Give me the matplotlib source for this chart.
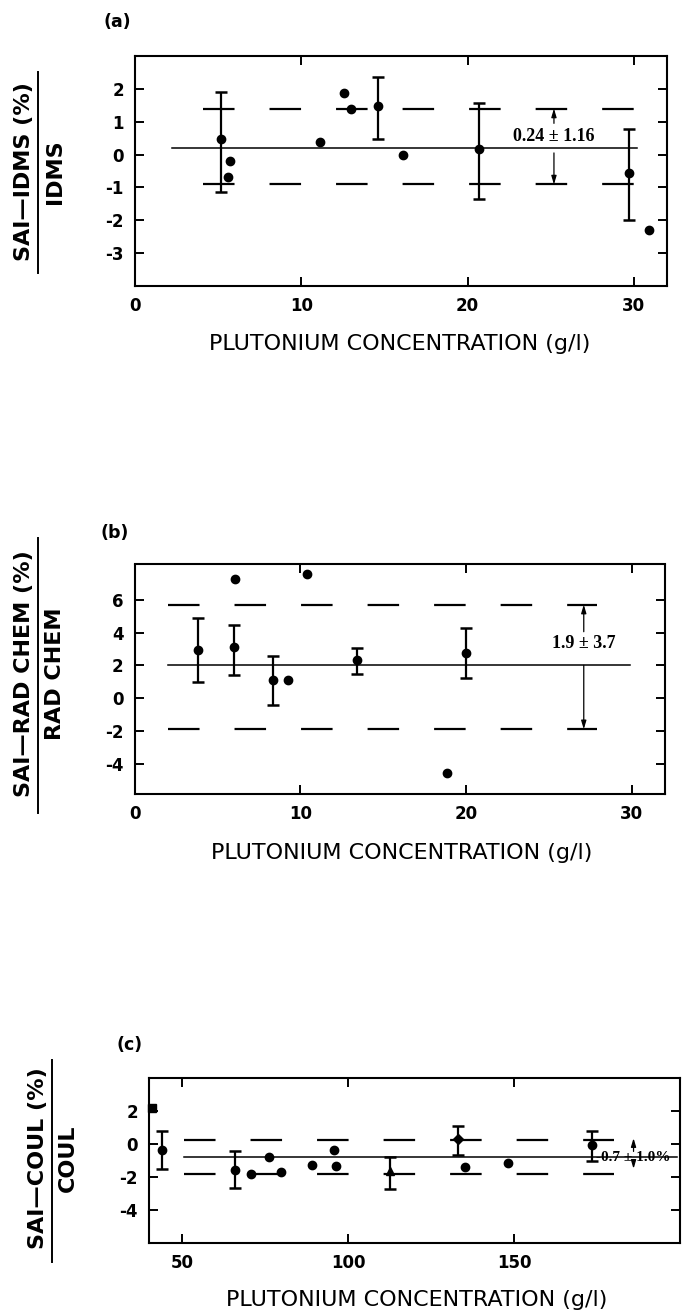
import matplotlib.pyplot as plt
from matplotlib.lines import Line2D

plt.rcParams['font.family'] = ['DejaVu Sans']
plt.rcParams['axes.unicode_minus'] = False
plt.rcParams['lines.scale_dashes'] = False

# (a) SAI vs IDMS
a_err_x = [5.2, 14.6, 20.7, 29.7]
a_err_y = [0.47, 1.47, 0.17, -0.57]
a_err_hi = [1.89, 2.35, 1.58, 0.78]
a_err_lo = [-1.14, 0.47, -1.34, -2.0]
a_pt_x = [5.7, 5.6, 11.1, 12.6, 13.0, 16.1, 30.9]
a_pt_y = [-0.2, -0.69, 0.39, 1.88, 1.38, -0.02, -2.3]
a_mean, a_upper, a_lower = 0.2, 1.40, -0.91
a_mean_span = [2.2, 30.2]
a_band_span = [4.1, 30.0]
a_note = '0.24 ± 1.16'
a_note_x = 25.2

# (b) SAI vs RAD CHEM
b_err_x = [3.83, 5.98, 8.34, 13.45, 20.0]
b_err_y = [2.93, 3.14, 1.09, 2.32, 2.77]
b_err_hi = [4.88, 4.43, 2.58, 3.07, 4.30]
b_err_lo = [0.98, 1.43, -0.41, 1.50, 1.23]
b_pt_x = [6.05, 9.25, 10.38, 18.87]
b_pt_y = [7.27, 1.09, 7.54, -4.59]
b_mean, b_upper, b_lower = 2.0, 5.7, -1.9
b_mean_span = [2.0, 29.9]
b_band_span = [2.0, 27.9]
b_note = '1.9 ± 3.7'
b_note_x = 27.1

# (c) SAI vs COUL
c_err_x = [43.8, 66.0, 112.5, 133.0, 173.6]
c_err_y = [-0.39, -1.55, -1.64, 0.31, -0.05]
c_err_hi = [0.78, -0.41, -0.8, 1.12, 0.77]
c_err_lo = [-1.5, -2.68, -2.71, -0.65, -1.0]
c_err_marker = ['o', 'o', '^', 'D', 'o']
c_pt_x = [70.8, 76.2, 79.9, 89.0, 95.7, 96.4, 135.1, 148.2]
c_pt_y = [-1.8, -0.8, -1.7, -1.3, -0.39, -1.34, -1.4, -1.14]
c_sq_x, c_sq_y = [41.0], [2.2]
c_mean, c_upper, c_lower = -0.8, 0.22, -1.82
c_mean_span = [50.4, 199.0]
c_band_span = [50.5, 180.0]
c_note = '-0.7 ± 1.0%'
c_note_x = 186.0

W, H = 686, 1316
fig = plt.figure(figsize=(W / 100, H / 100), dpi=100)


def rect(left, top, right, bottom):
    return [left / W, 1 - bottom / H, (right - left) / W, (bottom - top) / H]


def fpos(x, y):
    return x / W, 1 - y / H


def setup(ax, xlim, ylim, xticks, yticks):
    ax.set_xlim(xlim)
    ax.set_ylim(ylim)
    ax.set_xticks(xticks, [str(t) for t in xticks], fontweight='bold')
    ax.set_yticks(yticks, [str(t) for t in yticks], fontweight='bold')
    ax.tick_params(direction='in', length=6.5, width=1.4, top=True, right=True,
                   labelsize=12, pad=8)
    for s in ax.spines.values():
        s.set_linewidth(1.5)


def draw(ax, ex, ey, ehi, elo, px, py, mean, upper, lower, mspan, bspan, markers=None):
    ax.plot(mspan, [mean, mean], color='black', lw=1.1)
    for lvl in (upper, lower):
        ax.plot(bspan, [lvl, lvl], color='black', lw=1.6, dashes=(22.7, 25.2),
                dash_capstyle='butt')
    if markers is None:
        markers = ['o'] * len(ex)
    for x, y, hi, lo, m in zip(ex, ey, ehi, elo, markers):
        ax.errorbar([x], [y], yerr=[[y - lo], [hi - y]], fmt=m, color='black',
                    ms=6 if m != 'D' else 5, elinewidth=1.6, capsize=4.5, capthick=1.8)
    ax.plot(px, py, 'o', color='black', ms=6)


def vlabel(x_num, x_line, x_den, y_mid, y0, y1, num, den, size):
    fig.text(*fpos(x_num, y_mid), num, rotation=90, ha='center', va='center',
             fontsize=size, fontweight='bold')
    fig.text(*fpos(x_den, y_mid), den, rotation=90, ha='center', va='center',
             fontsize=size, fontweight='bold')
    fig.add_artist(Line2D([x_line / W] * 2, [1 - y0 / H, 1 - y1 / H], color='black', lw=1.4))


def xlabel(x, y):
    fig.text(*fpos(x, y), 'PLUTONIUM CONCENTRATION (g/l)', ha='center', va='center',
             fontsize=16)


arrow = dict(arrowstyle='-|>,head_length=0.5,head_width=0.15', color='black', lw=0.9,
             shrinkA=0, shrinkB=0)
note_font = dict(ha='center', va='center', family='Liberation Serif', fontweight='bold')

# panel (a)
ax = fig.add_axes(rect(135, 56, 667, 286))
setup(ax, (0, 32), (-4, 3), [0, 10, 20, 30], [-3, -2, -1, 0, 1, 2])
draw(ax, a_err_x, a_err_y, a_err_hi, a_err_lo, a_pt_x, a_pt_y,
     a_mean, a_upper, a_lower, a_mean_span, a_band_span)
ax.text(a_note_x, 0.55, a_note, fontsize=13, **note_font)
ax.annotate('', xy=(a_note_x, a_upper), xytext=(a_note_x, 0.95), arrowprops=arrow)
ax.annotate('', xy=(a_note_x, a_lower), xytext=(a_note_x, 0.05), arrowprops=arrow)
fig.text(*fpos(117, 22), '(a)', ha='center', va='center', fontsize=12.5, fontweight='bold')
xlabel(400, 344)
vlabel(24, 38, 55, 172, 72, 273, 'SAI—IDMS (%)', 'IDMS', 16)

# panel (b)
ax = fig.add_axes(rect(134.5, 564.5, 665, 794))
setup(ax, (0, 32), (-5.85, 8.15), [0, 10, 20, 30], [-4, -2, 0, 2, 4, 6])
draw(ax, b_err_x, b_err_y, b_err_hi, b_err_lo, b_pt_x, b_pt_y,
     b_mean, b_upper, b_lower, b_mean_span, b_band_span)
ax.text(b_note_x, 3.35, b_note, fontsize=13, **note_font)
ax.annotate('', xy=(b_note_x, b_upper), xytext=(b_note_x, 4.05), arrowprops=arrow)
ax.annotate('', xy=(b_note_x, b_lower), xytext=(b_note_x, b_mean), arrowprops=arrow)
fig.text(*fpos(115, 533), '(b)', ha='center', va='center', fontsize=12.5, fontweight='bold')
xlabel(402, 853)
vlabel(24, 38, 55, 674, 538, 813, 'SAI—RAD CHEM (%)', 'RAD CHEM', 16)

# panel (c)
ax = fig.add_axes(rect(149, 1078, 680, 1243))
setup(ax, (40, 200), (-6, 4), [50, 100, 150], [-4, -2, 0, 2])
draw(ax, c_err_x, c_err_y, c_err_hi, c_err_lo, c_pt_x, c_pt_y,
     c_mean, c_upper, c_lower, c_mean_span, c_band_span, c_err_marker)
ax.plot(c_sq_x, c_sq_y, 's', color='black', ms=5.5, clip_on=False)
ax.text(c_note_x, c_mean, c_note, fontsize=11, **note_font)
ax.annotate('', xy=(c_note_x, 0.35), xytext=(c_note_x, -0.45), arrowprops=arrow)
ax.annotate('', xy=(c_note_x, -1.5), xytext=(c_note_x, -1.15), arrowprops=arrow)
fig.text(*fpos(130, 1045), '(c)', ha='center', va='center', fontsize=12.5, fontweight='bold')
xlabel(417, 1300)
vlabel(38, 52.3, 68, 1158, 1060, 1262, 'SAI—COUL (%)', 'COUL', 16)

fig.savefig('out.png', dpi=100)
